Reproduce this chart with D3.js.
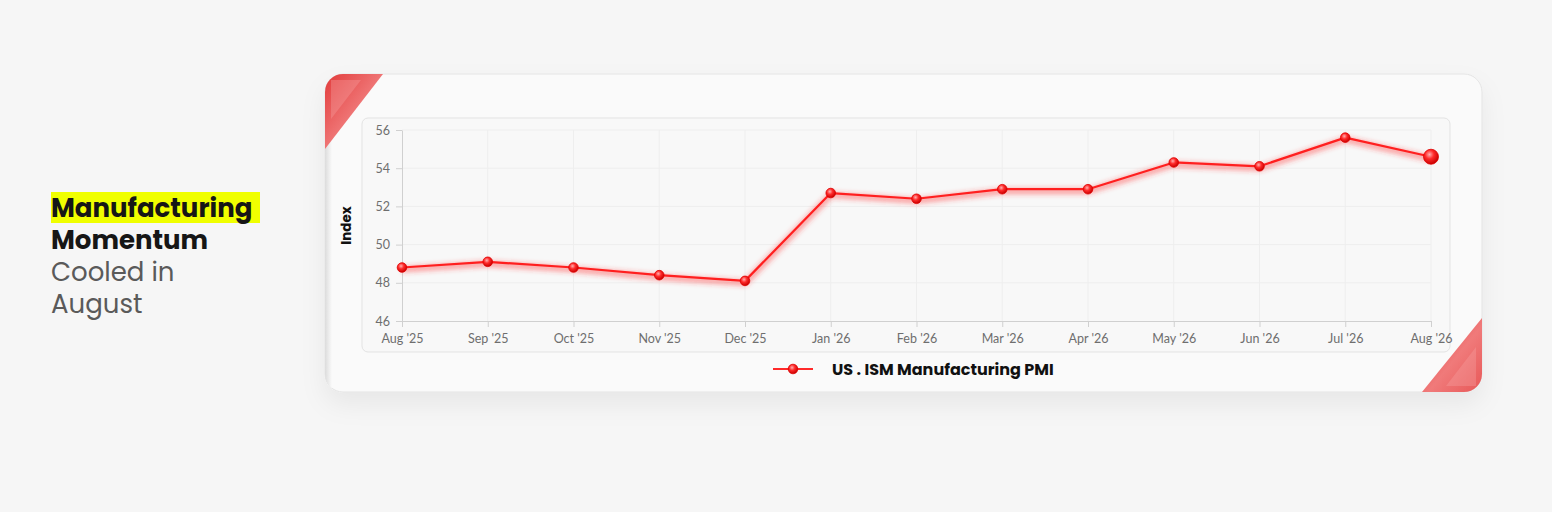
<!DOCTYPE html>
<html>
<head>
<meta charset="utf-8">
<script src="https://cdn.jsdelivr.net/npm/d3@7"></script>
<style>
	body { margin: 0; background: #f6f6f6; }
	svg { display: block; }
	.tick text { font-family: Lato, sans-serif; font-size: 12.5px; fill: #6e6e6e; }
</style>
</head>
<body>
<div id="viz"></div>
<script>
const months = ["Aug '25", "Sep '25", "Oct '25", "Nov '25", "Dec '25", "Jan '26", "Feb '26",
	"Mar '26", "Apr '26", "May '26", "Jun '26", "Jul '26", "Aug '26"];
const pmi = [48.8, 49.1, 48.8, 48.4, 48.1, 52.7, 52.4, 52.9, 52.9, 54.3, 54.1, 55.6, 54.6];
const yTicks = [46, 48, 50, 52, 54, 56];
const seriesName = 'US . ISM Manufacturing PMI';
const titleLines = ['Manufacturing', 'Momentum', 'Cooled in', 'August'];

(() => {
	let W = 1552, H = 512;
	let card = { x: 325, y: 74, w: 1157, h: 318, r: 18 };
	let panel = { x: 362, y: 118, w: 1088, h: 234 };
	let margin = { top: 130, right: 1431, bottom: 321, left: 402 };

	let svg = d3.select('#viz').append('svg')
		.attr('width', W)
		.attr('height', H);

	let defs = svg.append('defs');

	let sh = defs.append('filter').attr('id', 'cardShadow')
		.attr('x', '-10%').attr('y', '-20%').attr('width', '120%').attr('height', '160%');
	sh.append('feDropShadow').attr('dx', 0).attr('dy', 12).attr('stdDeviation', 12)
		.attr('flood-color', '#000').attr('flood-opacity', 0.06);

	let glow = defs.append('filter').attr('id', 'glow')
		.attr('x', '-5%').attr('y', '-30%').attr('width', '110%').attr('height', '160%');
	glow.append('feGaussianBlur').attr('stdDeviation', 2.5);

	let dot = defs.append('radialGradient').attr('id', 'dot')
		.attr('cx', '40%').attr('cy', '35%').attr('r', '65%');
	dot.append('stop').attr('offset', '0%').attr('stop-color', '#ffb0b0');
	dot.append('stop').attr('offset', '45%').attr('stop-color', '#ff2a2a');
	dot.append('stop').attr('offset', '100%').attr('stop-color', '#c80000');

	let corner = defs.append('linearGradient').attr('id', 'corner')
		.attr('x1', 0).attr('y1', 0).attr('x2', 1).attr('y2', 1);
	corner.append('stop').attr('offset', '0%').attr('stop-color', '#e23b3b');
	corner.append('stop').attr('offset', '55%').attr('stop-color', '#f07a7a');
	corner.append('stop').attr('offset', '100%').attr('stop-color', '#e85858');

	let rim = defs.append('linearGradient').attr('id', 'rim')
		.attr('x1', 0).attr('y1', 0).attr('x2', 1).attr('y2', 0);
	rim.append('stop').attr('offset', '0%').attr('stop-color', '#dcdcdc');
	rim.append('stop').attr('offset', '100%').attr('stop-color', '#fafafa');

	defs.append('clipPath').attr('id', 'cardClip')
		.append('rect')
		.attr('x', card.x).attr('y', card.y)
		.attr('width', card.w).attr('height', card.h)
		.attr('rx', card.r);

	// left title
	let title = svg.append('g').attr('font-family', "Poppins, 'Open Sans', sans-serif");

	title.append('rect')
		.attr('x', 51).attr('y', 192)
		.attr('width', 209).attr('height', 31)
		.attr('fill', '#f0ff00');

	title.selectAll('text')
		.data(titleLines)
		.join('text')
		.attr('x', 51)
		.attr('y', (d, i) => 217 + i * 32)
		.attr('font-size', 26)
		.attr('font-weight', (d, i) => i < 2 ? 700 : 400)
		.attr('fill', (d, i) => i < 2 ? '#161616' : '#5a5a5a')
		.text(d => d);

	// card
	svg.append('rect')
		.attr('x', card.x).attr('y', card.y)
		.attr('width', card.w).attr('height', card.h)
		.attr('rx', card.r)
		.attr('fill', '#fafafa')
		.attr('stroke', '#e4e4e4')
		.attr('filter', 'url(#cardShadow)');

	let corners = svg.append('g').attr('clip-path', 'url(#cardClip)');

	corners.append('rect')
		.attr('x', card.x).attr('y', card.y)
		.attr('width', 7).attr('height', card.h)
		.attr('fill', 'url(#rim)');

	corners.append('path')
		.attr('d', `M${card.x},${card.y} L${card.x + 58},${card.y} L${card.x},${card.y + 75} Z`)
		.attr('fill', 'url(#corner)');
	corners.append('path')
		.attr('d', `M${card.x + 6},${card.y + 6} L${card.x + 36},${card.y + 6} L${card.x + 6},${card.y + 45} Z`)
		.attr('fill', '#f5a3a3')
		.attr('opacity', 0.35);

	let cx2 = card.x + card.w, cy2 = card.y + card.h;
	corners.append('path')
		.attr('d', `M${cx2},${cy2 - 74} L${cx2},${cy2} L${cx2 - 60},${cy2} Z`)
		.attr('fill', 'url(#corner)');
	corners.append('path')
		.attr('d', `M${cx2 - 6},${cy2 - 45} L${cx2 - 6},${cy2 - 6} L${cx2 - 36},${cy2 - 6} Z`)
		.attr('fill', '#f5a3a3')
		.attr('opacity', 0.35);

	// inner panel
	svg.append('rect')
		.attr('x', panel.x).attr('y', panel.y)
		.attr('width', panel.w).attr('height', panel.h)
		.attr('rx', 6)
		.attr('fill', '#f8f8f8')
		.attr('stroke', '#e3e3e3');

	let x = d3.scalePoint()
		.domain(months)
		.range([margin.left, margin.right]);

	let y = d3.scaleLinear()
		.domain([46, 56])
		.range([margin.bottom, margin.top]);

	// grid
	svg.append('g')
		.selectAll('line.h')
		.data(yTicks.slice(1))
		.join('line')
		.attr('x1', margin.left).attr('x2', margin.right)
		.attr('y1', d => y(d)).attr('y2', d => y(d))
		.attr('stroke', '#eeeeee');

	svg.append('g')
		.selectAll('line.v')
		.data(months.slice(1))
		.join('line')
		.attr('x1', d => x(d)).attr('x2', d => x(d))
		.attr('y1', margin.top).attr('y2', margin.bottom)
		.attr('stroke', '#eeeeee');

	let xAxis = g => g
		.attr('transform', `translate(0,${margin.bottom})`)
		.call(d3.axisBottom(x).tickSize(6).tickSizeOuter(0).tickPadding(7))
		.call(g => g.select('.domain').attr('stroke', '#d0d0d0'))
		.call(g => g.selectAll('.tick line').attr('stroke', '#d0d0d0'));

	let yAxis = g => g
		.attr('transform', `translate(${margin.left},0)`)
		.call(d3.axisLeft(y).tickValues(yTicks).tickSize(6).tickSizeOuter(0).tickPadding(6))
		.call(g => g.select('.domain').attr('stroke', '#d0d0d0'))
		.call(g => g.selectAll('.tick line').attr('stroke', '#d0d0d0'));

	svg.append('g').call(xAxis);
	svg.append('g').call(yAxis);

	svg.append('text')
		.attr('transform', `translate(351,${(margin.top + margin.bottom) / 2}) rotate(-90)`)
		.attr('text-anchor', 'middle')
		.attr('font-family', "Poppins, 'Open Sans', sans-serif")
		.attr('font-size', 13.5)
		.attr('font-weight', 700)
		.attr('fill', '#111')
		.text('Index');

	let line = d3.line()
		.x((d, i) => x(months[i]))
		.y(d => y(d));

	svg.append('path')
		.datum(pmi)
		.attr('fill', 'none')
		.attr('stroke', '#ff3030')
		.attr('stroke-opacity', 0.45)
		.attr('stroke-width', 6)
		.attr('filter', 'url(#glow)')
		.attr('transform', 'translate(0,2)')
		.attr('d', line);

	svg.append('path')
		.datum(pmi)
		.attr('fill', 'none')
		.attr('stroke', '#ff1f1f')
		.attr('stroke-width', 2.2)
		.attr('stroke-linejoin', 'round')
		.attr('d', line);

	svg.append('g')
		.selectAll('circle')
		.data(pmi)
		.join('circle')
		.attr('cx', (d, i) => x(months[i]))
		.attr('cy', d => y(d))
		.attr('r', (d, i) => i === pmi.length - 1 ? 7.5 : 4.8)
		.attr('fill', 'url(#dot)')
		.attr('stroke', '#e00000')
		.attr('stroke-width', 0.8);

	// legend
	let legend = svg.append('g').attr('transform', 'translate(773,369)');
	legend.append('line')
		.attr('x1', 0).attr('x2', 40)
		.attr('stroke', '#ff2a2a')
		.attr('stroke-width', 2.2);
	legend.append('circle')
		.attr('cx', 20).attr('r', 4.8)
		.attr('fill', 'url(#dot)')
		.attr('stroke', '#e00000')
		.attr('stroke-width', 0.8);
	legend.append('text')
		.attr('x', 59).attr('y', 5.5)
		.attr('font-family', "Poppins, 'Open Sans', sans-serif")
		.attr('font-size', 16)
		.attr('font-weight', 700)
		.attr('fill', '#111')
		.text(seriesName);
})();
</script>
</body>
</html>
